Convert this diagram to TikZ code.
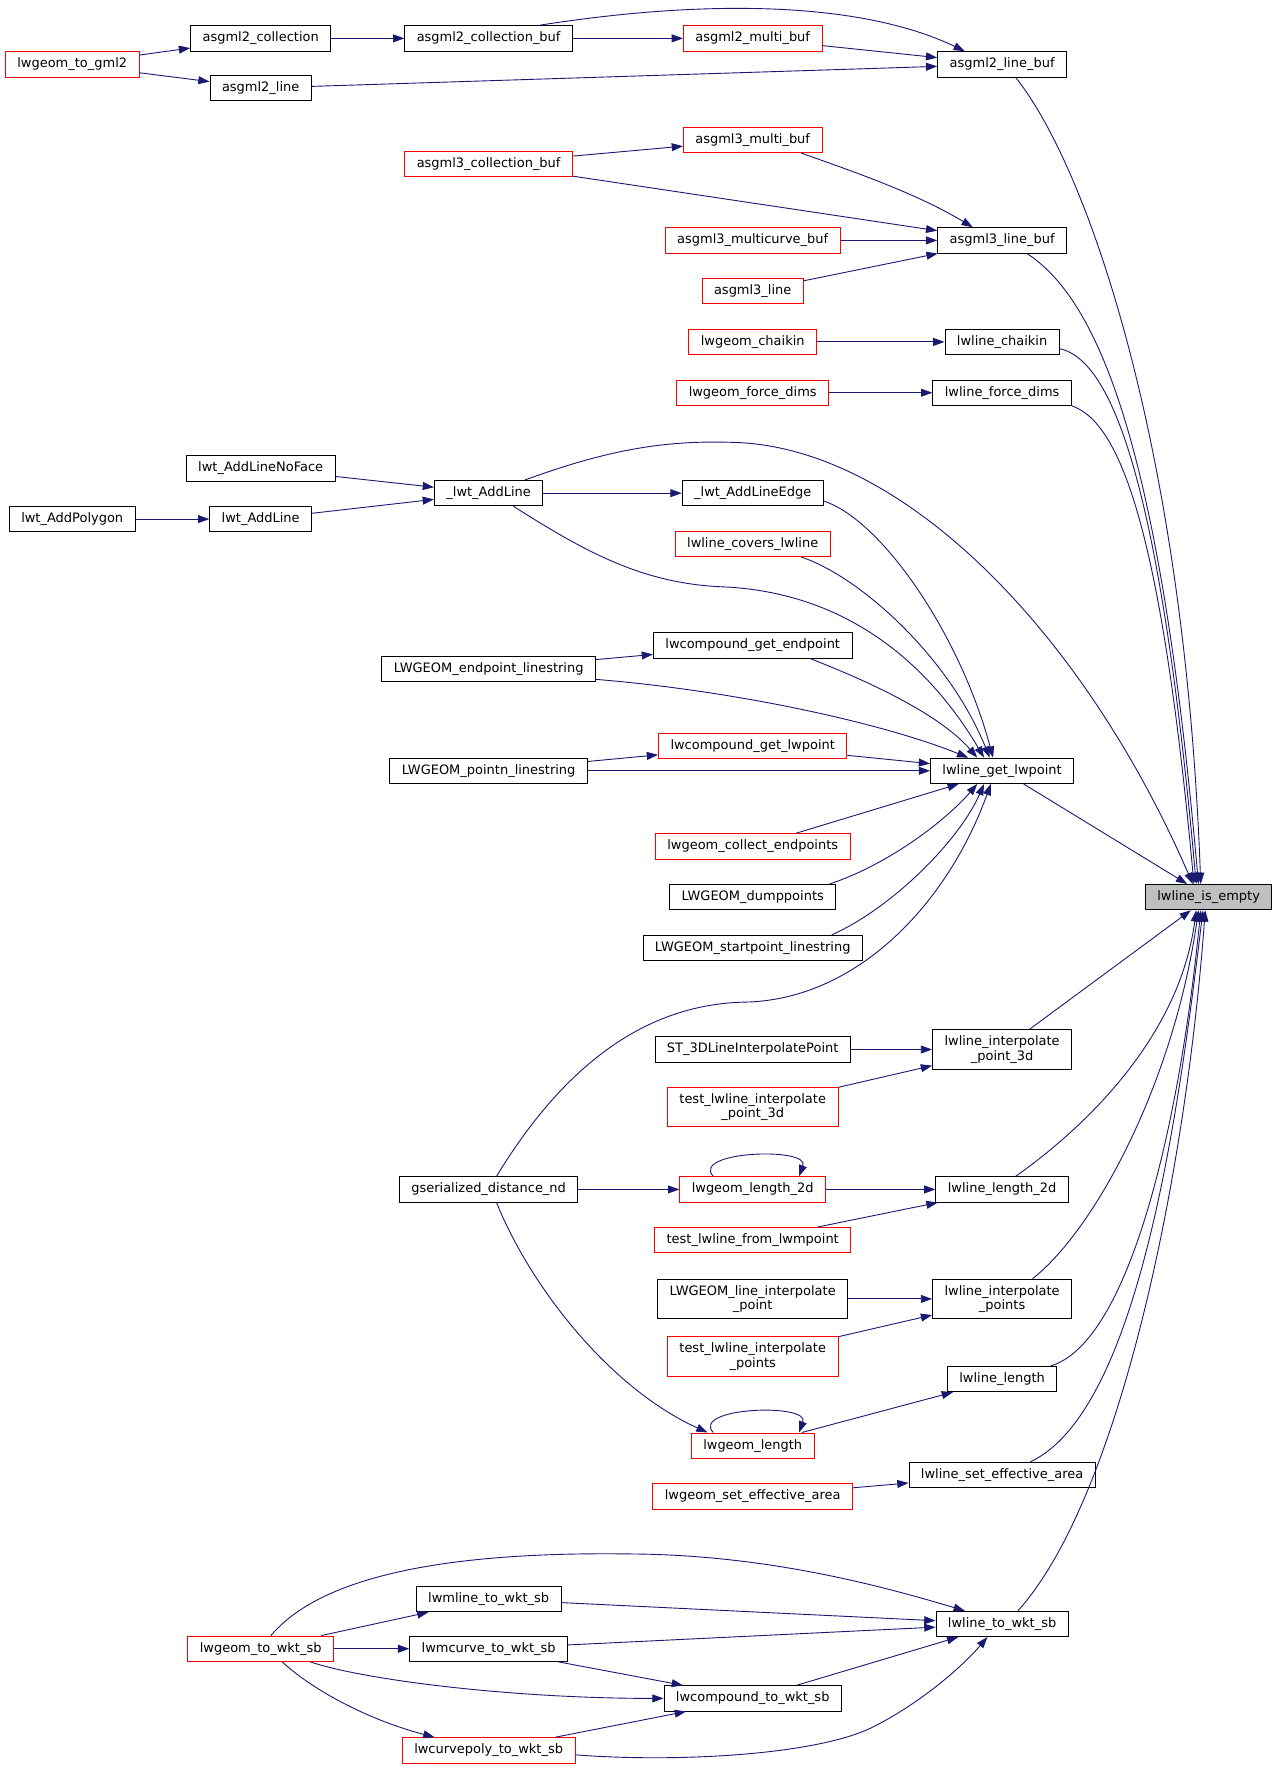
\documentclass[tikz,border=0pt]{standalone}
\usepackage{fontspec}
\setmainfont{DejaVu Sans}
\usetikzlibrary{arrows.meta}
\definecolor{edgeblue}{HTML}{191970}
\definecolor{emptygray}{HTML}{BFBFBF}

\begin{document}
\begin{tikzpicture}[x=1pt,y=-1pt,font=\fontsize{11.5}{12.7}\selectfont,
  fn/.style={draw=black,fill=white,line width=0.8pt,inner xsep=10.6pt,inner ysep=5.5pt,minimum height=22pt,align=center},
  fnred/.style={fn,draw=red},
  call/.style={draw=edgeblue,line width=0.8pt,-{Triangle[length=10pt,width=7pt]}}]
  \useasboundingbox (0,0) rectangle (1135,1572);

  \node [fnred] (togml2) at (64,57) {lwgeom\_to\_gml2};
  \node [fn] (polygon) at (64,460) {lwt\_AddPolygon};

  \node [fn] (g2coll) at (231,34) {asgml2\_collection};
  \node [fn] (g2line) at (231,78) {asgml2\_line};
  \node [fn] (noface) at (231,415) {lwt\_AddLineNoFace};
  \node [fn] (addline) at (231,460) {lwt\_AddLine};
  \node [fnred] (towkt) at (231,1461) {lwgeom\_to\_wkt\_sb};

  \node [fn] (g2collbuf) at (433,34) {asgml2\_collection\_buf};
  \node [fnred] (g3collbuf) at (433,145) {asgml3\_collection\_buf};
  \node [fn] (uaddline) at (433,437) {\_lwt\_AddLine};
  \node [fn] (endpt) at (433,593) {LWGEOM\_endpoint\_linestring};
  \node [fn] (pointn) at (433,683) {LWGEOM\_pointn\_linestring};
  \node [fn] (gdist) at (433,1054) {gserialized\_distance\_nd};
  \node [fn] (mline) at (433,1417) {lwmline\_to\_wkt\_sb};
  \node [fn] (mcurve) at (433,1461) {lwmcurve\_to\_wkt\_sb};
  \node [fnred] (cpoly) at (433,1551) {lwcurvepoly\_to\_wkt\_sb};

  \node [fnred] (g2multi) at (667,34) {asgml2\_multi\_buf};
  \node [fnred] (g3multi) at (667,124) {asgml3\_multi\_buf};
  \node [fnred] (g3mcurve) at (667,213) {asgml3\_multicurve\_buf};
  \node [fnred] (g3line) at (667,258) {asgml3\_line};
  \node [fnred] (gchaikin) at (667,303) {lwgeom\_chaikin};
  \node [fnred] (gforce) at (667,348) {lwgeom\_force\_dims};
  \node [fn] (uedge) at (667,437) {\_lwt\_AddLineEdge};
  \node [fnred] (covers) at (667,482) {lwline\_covers\_lwline};
  \node [fn] (cendpt) at (667,572) {lwcompound\_get\_endpoint};
  \node [fnred] (clwpt) at (667,661) {lwcompound\_get\_lwpoint};
  \node [fnred] (collect) at (667,750) {lwgeom\_collect\_endpoints};
  \node [fn] (dump) at (667,795) {LWGEOM\_dumppoints};
  \node [fn] (startpt) at (667,840) {LWGEOM\_startpoint\_linestring};
  \node [fn] (st3d) at (667,930) {ST\_3DLineInterpolatePoint};
  \node [fnred] (test3d) at (667,981) {test\_lwline\_interpolate\\\_point\_3d};
  \node [fnred] (glen2d) at (667,1054) {lwgeom\_length\_2d};
  \node [fnred] (testmp) at (667,1099) {test\_lwline\_from\_lwmpoint};
  \node [fn] (lineip) at (667,1151) {LWGEOM\_line\_interpolate\\\_point};
  \node [fnred] (testpts) at (667,1202) {test\_lwline\_interpolate\\\_points};
  \node [fnred] (glen) at (667,1281) {lwgeom\_length};
  \node [fnred] (gseteff) at (667,1326) {lwgeom\_set\_effective\_area};
  \node [fn] (compwkt) at (667,1505) {lwcompound\_to\_wkt\_sb};

  \node [fn] (g2linebuf) at (888,57) {asgml2\_line\_buf};
  \node [fn] (g3linebuf) at (888,213) {asgml3\_line\_buf};
  \node [fn] (chaikin) at (888,303) {lwline\_chaikin};
  \node [fn] (force) at (888,348) {lwline\_force\_dims};
  \node [fn] (getpt) at (888,683) {lwline\_get\_lwpoint};
  \node [fn] (ip3d) at (888,930) {lwline\_interpolate\\\_point\_3d};
  \node [fn] (len2d) at (888,1054) {lwline\_length\_2d};
  \node [fn] (ippts) at (888,1151) {lwline\_interpolate\\\_points};
  \node [fn] (len) at (888,1222) {lwline\_length};
  \node [fn] (seteff) at (888,1307) {lwline\_set\_effective\_area};
  \node [fn] (linewkt) at (888,1439) {lwline\_to\_wkt\_sb};

  \node [fn,fill=emptygray] (empty) at (1071,795) {lwline\_is\_empty};

  \draw [call] (togml2) -- (g2coll);
  \draw [call] (togml2) -- (g2line);
  \draw [call] (g2coll) -- (g2collbuf);
  \draw [call] (g2collbuf) -- (g2multi);
  \draw [call] ([xshift=45pt]g2collbuf.north) .. controls (620,0) and (760,0) .. ([xshift=-33pt]g2linebuf.north);
  \draw [call] (g2multi) -- (g2linebuf);
  \draw [call] (g2line) -- (g2linebuf);
  \draw [call] ([xshift=12pt]g2linebuf.south) .. controls (965,150) and (1050,400) .. ([xshift=-7pt]empty.north);

  \draw [call] (g3collbuf) -- (g3multi);
  \draw [call] (g3collbuf) -- (g3linebuf);
  \draw [call] ([xshift=43pt]g3multi.south) .. controls (750,150) and (810,170) .. ([xshift=-26pt]g3linebuf.north);
  \draw [call] (g3mcurve) -- (g3linebuf);
  \draw [call] (g3line) -- (g3linebuf);
  \draw [call] ([xshift=22pt]g3linebuf.south) .. controls (980,270) and (1030,420) .. ([xshift=-9pt]empty.north);

  \draw [call] (gchaikin) -- (chaikin);
  \draw [call] ([yshift=-6pt]chaikin.east) .. controls (990,320) and (1030,450) .. ([xshift=-11pt]empty.north);
  \draw [call] (gforce) -- (force);
  \draw [call] (force.south east) .. controls (995,375) and (1030,480) .. ([xshift=-13pt]empty.north);

  \draw [call] (noface) -- (uaddline);
  \draw [call] (polygon) -- (addline);
  \draw [call] (addline) -- (uaddline);
  \draw [call] (uaddline) -- (uedge);
  \draw [call] ([xshift=32pt]uaddline.north) .. controls (540,398) and (590,390) .. (650,392)
    .. controls (800,396) and (960,560) .. ([xshift=-14pt]empty.north);
  \draw [call] ([xshift=22pt]uaddline.south) .. controls (520,490) and (570,517) .. (640,520)
    .. controls (760,525) and (830,600) .. ([xshift=-16pt]getpt.north);
  \draw [call] ([yshift=-7pt]uedge.east) .. controls (780,460) and (850,560) .. ([xshift=-8pt]getpt.north);
  \draw [call] ([xshift=43pt]covers.south) .. controls (760,510) and (840,580) .. ([xshift=-11pt]getpt.north);

  \draw [call] (endpt) -- (cendpt);
  \draw [call] ([yshift=-9pt]endpt.east) .. controls (650,612) and (780,640) .. ([xshift=-30pt]getpt.north);
  \draw [call] ([xshift=51pt]cendpt.south) .. controls (760,600) and (830,630) .. ([xshift=-22pt]getpt.north);
  \draw [call] (pointn) -- (clwpt);
  \draw [call] (pointn) -- (getpt);
  \draw [call] (clwpt) -- (getpt);
  \draw [call] (collect) -- (getpt);
  \draw [call] ([xshift=68pt]dump.north) .. controls (790,765) and (840,725) .. ([xshift=-22pt]getpt.south);
  \draw [call] ([xshift=70pt]startpt.north) .. controls (790,805) and (850,745) .. ([xshift=-16pt]getpt.south);
  \draw [call] ([xshift=7pt]gdist.north) .. controls (490,960) and (560,890) .. (660,888)
    .. controls (760,886) and (840,800) .. ([xshift=-10pt]getpt.south);
  \draw [call] (getpt) -- (empty);

  \draw [call] (st3d) -- (ip3d);
  \draw [call] (test3d) -- (ip3d);
  \draw [call] (ip3d) -- (empty);

  \draw [call] (gdist) -- (glen2d);
  \draw [call] ([xshift=-35pt]glen2d.north) .. controls (612,1020) and (718,1016) .. ([xshift=41pt]glen2d.north);
  \draw [call] (glen2d) -- (len2d);
  \draw [call] (testmp) -- (len2d);
  \draw [call] ([xshift=12pt]len2d.north) .. controls (960,1000) and (1045,920) .. ([xshift=-11pt]empty.south);

  \draw [call] (lineip) -- (ippts);
  \draw [call] (testpts) -- (ippts);
  \draw [call] ([xshift=27pt]ippts.north) .. controls (970,1090) and (1040,960) .. ([xshift=-9pt]empty.south);

  \draw [call] ([xshift=7pt]gdist.south) .. controls (470,1140) and (540,1230) .. ([xshift=-40pt]glen.north);
  \draw [call] ([xshift=-35pt]glen.north) .. controls (612,1247) and (718,1243) .. ([xshift=41pt]glen.north);
  \draw [call] (glen) -- (len);
  \draw [call] ([xshift=43pt]len.north) .. controls (1000,1190) and (1045,1000) .. ([xshift=-7pt]empty.south);

  \draw [call] (gseteff) -- (seteff);
  \draw [call] ([xshift=25pt]seteff.north) .. controls (1010,1250) and (1045,980) .. ([xshift=-5pt]empty.south);

  \draw [call] (towkt) -- (mline);
  \draw [call] (towkt) -- (mcurve);
  \draw [call] ([xshift=44pt]towkt.south) .. controls (320,1488) and (450,1505) .. (compwkt.west);
  \draw [call] ([xshift=19pt]towkt.south) .. controls (280,1500) and (330,1525) .. ([xshift=-48pt]cpoly.north);
  \draw [call] ([xshift=9pt]towkt.north) .. controls (290,1390) and (420,1375) .. (560,1377)
    .. controls (680,1378) and (780,1405) .. ([xshift=-33pt]linewkt.north);
  \draw [call] (mline) -- (linewkt);
  \draw [call] (mcurve) -- (linewkt);
  \draw [call] (mcurve) -- (compwkt);
  \draw [call] (cpoly) -- (compwkt);
  \draw [call] ([yshift=-4pt]cpoly.east) .. controls (600,1562) and (720,1555) .. (770,1532)
    .. controls (810,1513) and (850,1480) .. ([xshift=-13pt]linewkt.south);
  \draw [call] (compwkt) -- (linewkt);
  \draw [call] ([xshift=14pt]linewkt.north) .. controls (990,1330) and (1050,1050) .. ([xshift=-3pt]empty.south);
\end{tikzpicture}
\end{document}
